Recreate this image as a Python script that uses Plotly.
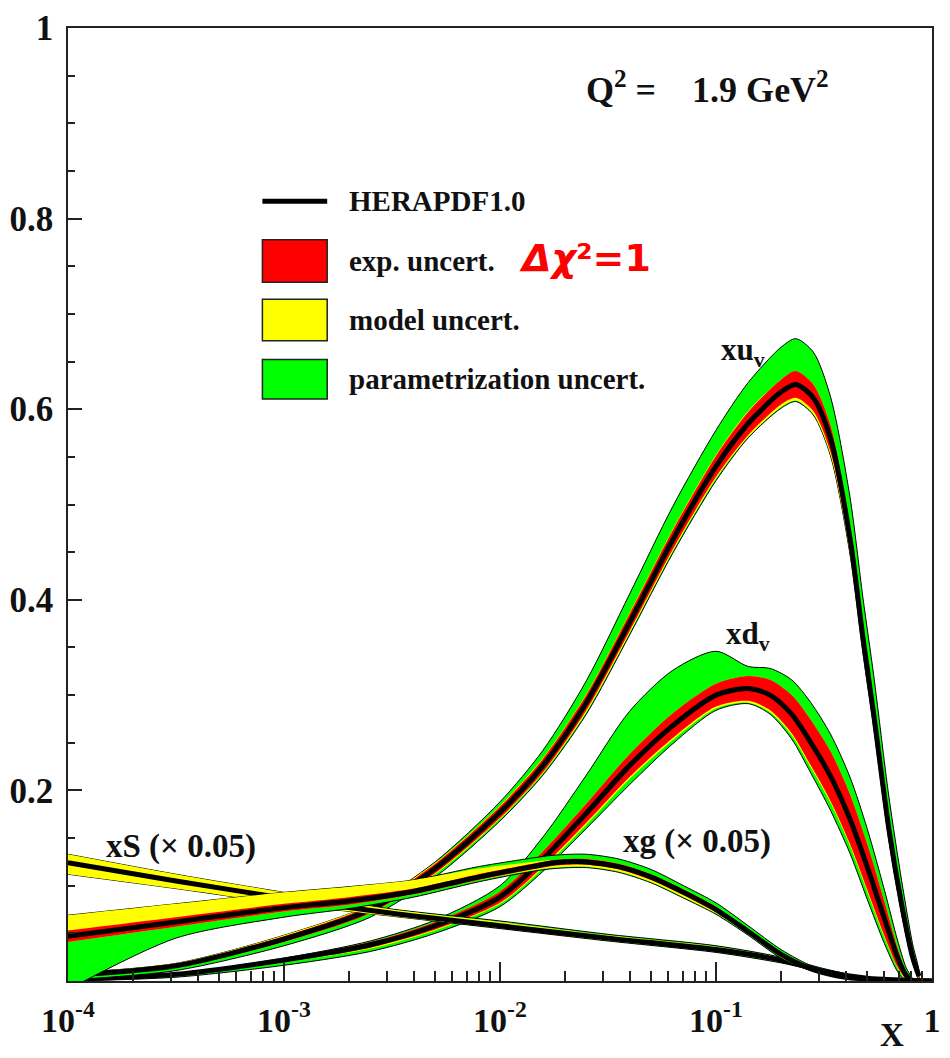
import plotly.graph_objects as go

# ---------------- data ----------------
# xu_v
xuv_x = [1e-4, 3.16e-4, 1e-3, 2.51e-3, 5.01e-3, 0.01, 0.0158, 0.0251, 0.0398, 0.0631, 0.1,
         0.141, 0.2, 0.234, 0.282, 0.339, 0.417, 0.479, 0.537, 0.631, 0.724, 0.813, 0.871]
xuv_c = [0.006, 0.016, 0.044, 0.075, 0.118, 0.177, 0.226, 0.292, 0.376, 0.463, 0.54,
         0.585, 0.618, 0.626, 0.612, 0.569, 0.465, 0.36, 0.28, 0.16, 0.08, 0.025, 0.005]
xuv_exp = [0.002, 0.002, 0.003, 0.004, 0.005, 0.006, 0.007, 0.008, 0.009, 0.010, 0.011,
           0.012, 0.013, 0.014, 0.014, 0.014, 0.013, 0.012, 0.011, 0.009, 0.007, 0.004, 0.002]
xuv_mod_dn = [0, 0, 0, 0, 0.001, 0.001, 0.001, 0.002, 0.002, 0.002, 0.002,
              0.002, 0.003, 0.003, 0.003, 0.003, 0.003, 0.003, 0.002, 0.002, 0.002, 0.001, 0.001]
xuv_mod_up = [0.0005, 0.0005, 0.001, 0.001, 0.001, 0.001, 0.001, 0.001, 0.001, 0.001, 0.001,
              0.001, 0, 0, 0, 0, 0, 0, 0, 0, 0, 0, 0]
xuv_par_dn = [0.003, 0.003, 0.004, 0.004, 0.003, 0.002, 0.002, 0.002, 0.002, 0.002, 0.002,
              0.001, 0.001, 0.001, 0.001, 0.001, 0.001, 0.001, 0.001, 0.001, 0.001, 0.001, 0.001]
xuv_par_up = [0, 0, 0, 0, 0.001, 0.004, 0.008, 0.014, 0.020, 0.024, 0.026,
              0.030, 0.034, 0.034, 0.034, 0.030, 0.030, 0.030, 0.030, 0.025, 0.018, 0.010, 0.004]

# xd_v
xdv_x = [1e-4, 3.16e-4, 1e-3, 2.51e-3, 5.01e-3, 0.01, 0.0158, 0.0251, 0.0398, 0.0631, 0.1,
         0.141, 0.178, 0.224, 0.275, 0.339, 0.417, 0.501, 0.603, 0.692, 0.759, 0.813]
xdv_c = [0.002, 0.007, 0.022, 0.038, 0.058, 0.088, 0.128, 0.176, 0.226, 0.268, 0.300,
         0.307, 0.300, 0.280, 0.250, 0.215, 0.170, 0.120, 0.065, 0.025, 0.006, 0.0]
xdv_exp = [0.001, 0.001, 0.002, 0.003, 0.004, 0.006, 0.008, 0.010, 0.012, 0.013, 0.012,
           0.013, 0.016, 0.020, 0.024, 0.026, 0.026, 0.024, 0.018, 0.010, 0.004, 0.001]
xdv_mod_dn = [0, 0, 0.0005, 0.001, 0.001, 0.001, 0.002, 0.002, 0.002, 0.002, 0.002,
              0.002, 0.002, 0.002, 0.002, 0.002, 0.002, 0.002, 0.002, 0.001, 0.001, 0]
xdv_mod_up = [0] * 22
xdv_par_dn = [0.001, 0.002, 0.003, 0.003, 0.003, 0.003, 0.003, 0.004, 0.006, 0.004, 0.002,
              0.001, 0.002, 0.004, 0.006, 0.008, 0.008, 0.008, 0.006, 0.004, 0.002, 0.001]
xdv_par_up = [0, 0, 0, 0.001, 0.002, 0.006, 0.015, 0.030, 0.045, 0.045, 0.034,
              0.010, 0.012, 0.016, 0.018, 0.018, 0.018, 0.016, 0.012, 0.008, 0.004, 0.001]

# xS (x 0.05)
xs_x = [1e-4, 3.16e-4, 1e-3, 3.16e-3, 0.01, 0.0316, 0.1, 0.2, 0.316, 0.5, 1.0]
xs_c = [0.124, 0.105, 0.087, 0.071, 0.058, 0.045, 0.033, 0.022, 0.010, 0.003, 0.0]
xs_exp = [0.002, 0.002, 0.002, 0.001, 0.001, 0.001, 0.001, 0.001, 0.001, 0.0005, 0]
xs_mod_dn = [0.010, 0.006, 0.004, 0.002, 0.001, 0.001, 0.001, 0.001, 0, 0, 0]
xs_mod_up = [0.007, 0.005, 0.004, 0.003, 0.003, 0.002, 0.002, 0.001, 0.001, 0, 0]
xs_par_dn = [0, 0, 0, 0, 0.001, 0.001, 0.001, 0.001, 0, 0, 0]
xs_par_up = [0, 0, 0, 0.0005, 0.001, 0.001, 0.001, 0.001, 0.001, 0, 0]

# xg (x 0.05)
xg_x = [1e-4, 3.16e-4, 1e-3, 2e-3, 3.98e-3, 7.94e-3, 0.0141, 0.0178, 0.0251, 0.0355,
        0.0501, 0.0708, 0.1, 0.141, 0.2, 0.282, 0.398, 0.631, 1.0]
xg_c = [0.047, 0.062, 0.077, 0.084, 0.094, 0.109, 0.120, 0.124, 0.125, 0.120,
        0.109, 0.093, 0.075, 0.052, 0.028, 0.012, 0.004, 0.001, 0.0]
xg_exp = [0.006, 0.005, 0.004, 0.004, 0.003, 0.003, 0.003, 0.003, 0.003, 0.003,
          0.003, 0.003, 0.003, 0.002, 0.002, 0.001, 0.001, 0.0005, 0]
xg_mod_dn = [0, 0, 0, 0, 0, 0, 0.001, 0.002, 0.002, 0.002,
             0.002, 0.002, 0.001, 0.001, 0.001, 0, 0, 0, 0]
xg_mod_up = [0.016, 0.014, 0.012, 0.011, 0.009, 0.006, 0.002, 0, 0, 0,
             0, 0, 0, 0, 0, 0, 0, 0, 0]
xg_par_dn = [0.05, 0.012, 0.006, 0.004, 0.003, 0.002, 0.001, 0.001, 0.001, 0.001,
             0.001, 0.001, 0.001, 0.001, 0.001, 0.001, 0, 0, 0]
xg_par_up = [0, 0, 0, 0, 0, 0.002, 0.004, 0.005, 0.005, 0.005,
             0.005, 0.004, 0.004, 0.004, 0.003, 0.002, 0.001, 0, 0]

x_tickvals = [1e-4, 1e-3, 1e-2, 1e-1, 1]
x_ticktext = ["10<sup>-4</sup>", "10<sup>-3</sup>", "10<sup>-2</sup>", "10<sup>-1</sup>", "1"]
y_tickvals = [0.2, 0.4, 0.6, 0.8, 1.0]
y_ticktext = ["0.2", "0.4", "0.6", "0.8", "1"]

legend_labels = ["HERAPDF1.0", "exp. uncert.", "model uncert.", "parametrization uncert."]

RED, YEL, GRN = "#FF0000", "#FFFF00", "#00FF00"
SERIF = "Liberation Serif"

# ---------------- figure ----------------
fig = go.Figure()


def poly(x, lo, hi, color, outline):
    xs = list(x) + list(reversed(x))
    ys = list(hi) + list(reversed(lo))
    return go.Scatter(
        x=xs, y=ys, mode="lines", fill="toself", fillcolor=color,
        line=dict(color="black" if outline else color, width=1 if outline else 0,
                  shape="spline", smoothing=0.8),
        hoverinfo="skip", showlegend=False)


def add_pdf(x, c, exp, mdn, mup, pdn, pup):
    red_lo = [a - b for a, b in zip(c, exp)]
    red_hi = [a + b for a, b in zip(c, exp)]
    yel_lo = [a - b for a, b in zip(red_lo, mdn)]
    yel_hi = [a + b for a, b in zip(red_hi, mup)]
    grn_lo = [a - b for a, b in zip(yel_lo, pdn)]
    grn_hi = [a + b for a, b in zip(yel_hi, pup)]
    fig.add_trace(poly(x, grn_lo, grn_hi, GRN, True))
    fig.add_trace(poly(x, yel_lo, yel_hi, YEL, False))
    fig.add_trace(poly(x, red_lo, red_hi, RED, False))
    fig.add_trace(go.Scatter(x=x, y=c, mode="lines",
                             line=dict(color="black", width=5, shape="spline", smoothing=0.8),
                             hoverinfo="skip", showlegend=False))


add_pdf(xdv_x, xdv_c, xdv_exp, xdv_mod_dn, xdv_mod_up, xdv_par_dn, xdv_par_up)
add_pdf(xuv_x, xuv_c, xuv_exp, xuv_mod_dn, xuv_mod_up, xuv_par_dn, xuv_par_up)
add_pdf(xs_x, xs_c, xs_exp, xs_mod_dn, xs_mod_up, xs_par_dn, xs_par_up)
add_pdf(xg_x, xg_c, xg_exp, xg_mod_dn, xg_mod_up, xg_par_dn, xg_par_up)

# plot-area geometry in pixels (for placing annotations)
L, R, T, B = 61, 941, 18, 981


def px(p):
    return (p - L) / (R - L)


def py(p):
    return (B - p) / (B - T)


x_minor = [m * 10 ** e for e in range(-4, 0) for m in range(2, 10)]
y_minor = [i * 0.05 for i in range(0, 21)]

fig.update_layout(
    width=950, height=1058,
    margin=dict(l=L, r=950 - R, t=T, b=1058 - B),
    paper_bgcolor="white", plot_bgcolor="white",
    showlegend=False,
    xaxis=dict(
        type="log", range=[-4, 0], showgrid=False, zeroline=False,
        showline=True, linecolor="#222", linewidth=1.5, mirror=True,
        tickmode="array", tickvals=x_tickvals,
        ticktext=["<b>" + t + "</b>" for t in x_ticktext],
        ticks="inside", ticklen=19, tickwidth=1.5, tickcolor="#222",
        tickfont=dict(family=SERIF, size=34, color="#111"),
        ticklabelstandoff=8, ticklabeloverflow="allow",
        minor=dict(tickmode="array", tickvals=x_minor, ticks="inside",
                   ticklen=10, tickwidth=1.5, tickcolor="#222", showgrid=False),
    ),
    yaxis=dict(
        range=[0, 1], showgrid=False, zeroline=False,
        showline=True, linecolor="#222", linewidth=1.5, mirror=True,
        tickmode="array", tickvals=y_tickvals,
        ticktext=["<b>" + t + "</b>" for t in y_ticktext],
        ticks="inside", ticklen=14, tickwidth=1.5, tickcolor="#222",
        tickfont=dict(family=SERIF, size=35, color="#111"),
        ticklabelstandoff=6, ticklabeloverflow="allow",
        minor=dict(tickmode="array", tickvals=y_minor, ticks="inside",
                   ticklen=7, tickwidth=1.5, tickcolor="#222", showgrid=False),
    ),
)

ann = []


def text(s, x, y, size, xanchor="center", color="#111", family=SERIF):
    ann.append(dict(text=s, x=px(x), y=py(y), xref="paper", yref="paper",
                    xanchor=xanchor, yanchor="middle", showarrow=False,
                    font=dict(family=family, size=size, color=color)))


text("<b>Q<sup>2</sup> =\u00a0\u00a0\u00a0 1.9 GeV<sup>2</sup></b>", 712, 78, 36)
text("<b>xu<sub>v</sub></b>", 748, 345, 31)
text("<b>xd<sub>v</sub></b>", 754, 632, 31)
text("<b>xS (\u00d7 0.05)</b>", 176, 845, 33)
text("<b>xg (\u00d7 0.05)</b>", 702, 840, 33)
text("<b>X</b>", 900, 1036, 33)

# legend
shapes = []
shapes.append(dict(type="line", xref="paper", yref="paper",
                   x0=px(259), x1=px(325), y0=py(193), y1=py(193),
                   line=dict(color="black", width=5)))
for (y0, y1), col in zip([(232, 275), (292, 334), (353, 393)], [RED, YEL, GRN]):
    shapes.append(dict(type="rect", xref="paper", yref="paper",
                       x0=px(259), x1=px(325), y0=py(y1), y1=py(y0),
                       fillcolor=col, line=dict(color="#222", width=1.5)))
for lab, yy in zip(legend_labels, [193, 253, 313, 373]):
    text("<b>" + lab + "</b>", 345, yy, 29, xanchor="left")

text("<b><i>\u0394\u03c7</i>\u00b2=1</b>", 588, 250, 38, color=RED, family="DejaVu Sans")

fig.update_layout(annotations=ann, shapes=shapes)
fig.write_html("out.html")
